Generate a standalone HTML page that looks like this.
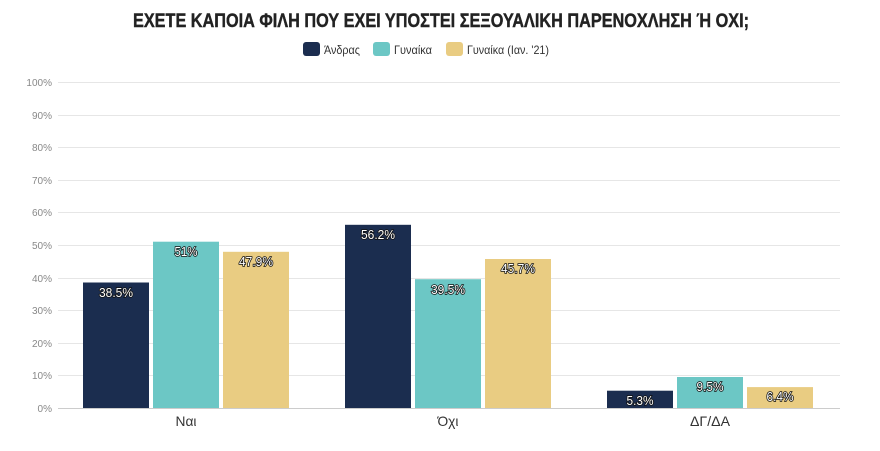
<!DOCTYPE html>
<html><head><meta charset="utf-8"><style>body{margin:0;background:#fff}svg{display:block}</style></head><body>
<svg width="880" height="451" xmlns="http://www.w3.org/2000/svg" font-family="'Liberation Sans',sans-serif">
<text x="441" y="27" text-anchor="middle" font-size="19" font-weight="bold" fill="#222" stroke="#222" stroke-width="0.4" textLength="616" lengthAdjust="spacingAndGlyphs">ΕΧΕΤΕ ΚΑΠΟΙΑ ΦΙΛΗ ΠΟΥ ΕΧΕΙ ΥΠΟΣΤΕΙ ΣΕΞΟΥΑΛΙΚΗ ΠΑΡΕΝΟΧΛΗΣΗ Ή ΟΧΙ;</text>
<g font-size="12" fill="#333">
<rect x="303" y="42" width="17" height="14" rx="3" fill="#1b2d4f"/><text x="324" y="54" textLength="36" lengthAdjust="spacingAndGlyphs">Άνδρας</text>
<rect x="373" y="42" width="17" height="14" rx="3" fill="#6cc7c5"/><text x="394" y="54" textLength="38" lengthAdjust="spacingAndGlyphs">Γυναίκα</text>
<rect x="446" y="42" width="17" height="14" rx="3" fill="#e9cc82"/><text x="467" y="54" textLength="82" lengthAdjust="spacingAndGlyphs">Γυναίκα (Ιαν. '21)</text>
</g>
<g stroke="#e6e6e6" stroke-width="1">
<line x1="58" x2="840" y1="82.5" y2="82.5"/><line x1="58" x2="840" y1="115.5" y2="115.5"/><line x1="58" x2="840" y1="147.5" y2="147.5"/><line x1="58" x2="840" y1="180.5" y2="180.5"/><line x1="58" x2="840" y1="212.5" y2="212.5"/><line x1="58" x2="840" y1="245.5" y2="245.5"/><line x1="58" x2="840" y1="278.5" y2="278.5"/><line x1="58" x2="840" y1="310.5" y2="310.5"/><line x1="58" x2="840" y1="343.5" y2="343.5"/><line x1="58" x2="840" y1="375.5" y2="375.5"/>
</g>
<line x1="58" x2="840" y1="408.5" y2="408.5" stroke="#ccc"/>
<g font-size="10" fill="#888" text-anchor="end">
<text x="52" y="86">100%</text><text x="52" y="119">90%</text><text x="52" y="151">80%</text><text x="52" y="184">70%</text><text x="52" y="216">60%</text><text x="52" y="249">50%</text><text x="52" y="282">40%</text><text x="52" y="314">30%</text><text x="52" y="347">20%</text><text x="52" y="379">10%</text><text x="52" y="412">0%</text>
</g>
<g>
<rect x="83" y="282.5" width="66" height="125.5" fill="#1b2d4f"/>
<rect x="153" y="241.7" width="66" height="166.3" fill="#6cc7c5"/>
<rect x="223" y="251.8" width="66" height="156.2" fill="#e9cc82"/>
<rect x="345" y="224.8" width="66" height="183.2" fill="#1b2d4f"/>
<rect x="415" y="279.2" width="66" height="128.8" fill="#6cc7c5"/>
<rect x="485" y="259" width="66" height="149" fill="#e9cc82"/>
<rect x="607" y="390.7" width="66" height="17.3" fill="#1b2d4f"/>
<rect x="677" y="377" width="66" height="31" fill="#6cc7c5"/>
<rect x="747" y="387.1" width="66" height="20.9" fill="#e9cc82"/>
</g>
<g font-size="13" fill="#fff" stroke="#111" stroke-width="1.6" paint-order="stroke" text-anchor="middle" lengthAdjust="spacingAndGlyphs">
<text x="116" y="297" textLength="34" lengthAdjust="spacingAndGlyphs">38.5%</text><text x="186" y="256" textLength="23" lengthAdjust="spacingAndGlyphs">51%</text><text x="256" y="266" textLength="34" lengthAdjust="spacingAndGlyphs">47.9%</text>
<text x="378" y="239" textLength="34" lengthAdjust="spacingAndGlyphs">56.2%</text><text x="448" y="294" textLength="34" lengthAdjust="spacingAndGlyphs">39.5%</text><text x="518" y="273" textLength="34" lengthAdjust="spacingAndGlyphs">45.7%</text>
<text x="640" y="405" textLength="27" lengthAdjust="spacingAndGlyphs">5.3%</text><text x="710" y="391" textLength="27" lengthAdjust="spacingAndGlyphs">9.5%</text><text x="780" y="401" textLength="27" lengthAdjust="spacingAndGlyphs">6.4%</text>
</g>
<g font-size="14" fill="#333" text-anchor="middle">
<text x="186" y="426" textLength="21" lengthAdjust="spacingAndGlyphs">Ναι</text><text x="448" y="426" textLength="21" lengthAdjust="spacingAndGlyphs">Όχι</text><text x="710" y="426" textLength="40" lengthAdjust="spacingAndGlyphs">ΔΓ/ΔΑ</text>
</g>
</svg>
</body></html>
